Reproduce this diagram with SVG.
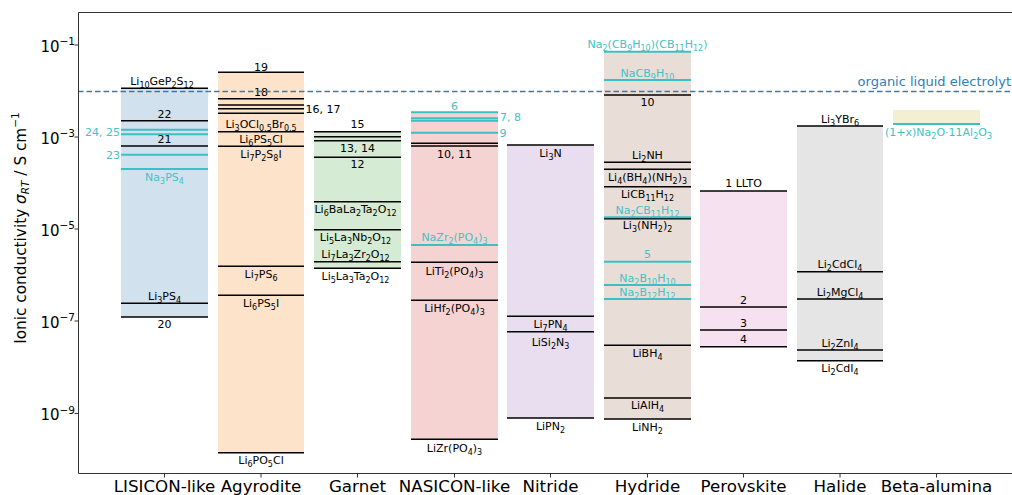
<svg xmlns="http://www.w3.org/2000/svg" width="1012" height="495" viewBox="0 0 1012 495">
<style>
.lab{font-family:"DejaVu Sans",Verdana,sans-serif;font-size:11px;fill:#000;text-anchor:middle}
.t{fill:#45c1c4}
.s{font-size:8px}
.bk{stroke:#000;stroke-width:1.5}
.tl{stroke:#3ebfc3;stroke-width:2}
.ax{stroke:#333;stroke-width:1;fill:none}
.tick{font-family:"DejaVu Sans",sans-serif;font-size:15px;fill:#000;text-anchor:end}
.xl{font-family:"DejaVu Sans",sans-serif;font-size:16.7px;fill:#000;text-anchor:middle}
</style>
<rect width="1012" height="495" fill="#fff"/>

<g id="lisicon">
<rect x="121" y="88.3" width="87" height="228.7" fill="#d2e1ee"/>
<line class="bk" x1="121" y1="88.3" x2="208" y2="88.3"/>
<line class="bk" x1="121" y1="120.7" x2="208" y2="120.7"/>
<line class="tl" x1="121" y1="129.7" x2="208" y2="129.7"/>
<line class="tl" x1="121" y1="134.3" x2="208" y2="134.3"/>
<line class="bk" x1="121" y1="146" x2="208" y2="146"/>
<line class="tl" x1="121" y1="154.7" x2="208" y2="154.7"/>
<line class="tl" x1="121" y1="169" x2="208" y2="169"/>
<line class="bk" x1="121" y1="303.3" x2="208" y2="303.3"/>
<line class="bk" x1="121" y1="317" x2="208" y2="317"/>
<text class="lab" x="162" y="85">Li<tspan class="s" dy="3">10</tspan><tspan dy="-3">GeP</tspan><tspan class="s" dy="3">2</tspan><tspan dy="-3">S</tspan><tspan class="s" dy="3">12</tspan></text>
<text class="lab" x="164.5" y="117.5">22</text>
<text class="lab t" x="120" y="136" style="text-anchor:end">24, 25</text>
<text class="lab" x="164.5" y="142.8">21</text>
<text class="lab t" x="120" y="158.5" style="text-anchor:end">23</text>
<text class="lab t" x="164.5" y="181">Na<tspan class="s" dy="3">3</tspan><tspan dy="-3">PS</tspan><tspan class="s" dy="3">4</tspan></text>
<text class="lab" x="164.5" y="300">Li<tspan class="s" dy="3">3</tspan><tspan dy="-3">PS</tspan><tspan class="s" dy="3">4</tspan></text>
<text class="lab" x="164.5" y="328">20</text>
</g>

<g id="agyrodite">
<rect x="218" y="72.3" width="86" height="380.4" fill="#fde3ca"/>
<line class="bk" x1="218" y1="72.3" x2="304" y2="72.3"/>
<line class="bk" x1="218" y1="98.7" x2="304" y2="98.7"/>
<line class="bk" x1="218" y1="105" x2="304" y2="105"/>
<line class="bk" x1="218" y1="108.7" x2="304" y2="108.7"/>
<line class="bk" x1="218" y1="113.3" x2="304" y2="113.3"/>
<line class="bk" x1="218" y1="131.7" x2="304" y2="131.7"/>
<line class="bk" x1="218" y1="146.3" x2="304" y2="146.3"/>
<line class="bk" x1="218" y1="266.3" x2="304" y2="266.3"/>
<line class="bk" x1="218" y1="295.3" x2="304" y2="295.3"/>
<line class="bk" x1="218" y1="452.7" x2="304" y2="452.7"/>
<text class="lab" x="261" y="70.5">19</text>
<text class="lab" x="261" y="96">18</text>
<text class="lab" x="305.5" y="113" style="text-anchor:start">16, 17</text>
<text class="lab" x="261" y="127.5">Li<tspan class="s" dy="3">3</tspan><tspan dy="-3">OCl</tspan><tspan class="s" dy="3">0.5</tspan><tspan dy="-3">Br</tspan><tspan class="s" dy="3">0.5</tspan></text>
<text class="lab" x="261" y="142.5">Li<tspan class="s" dy="3">6</tspan><tspan dy="-3">PS</tspan><tspan class="s" dy="3">5</tspan><tspan dy="-3">Cl</tspan></text>
<text class="lab" x="261" y="157.5">Li<tspan class="s" dy="3">7</tspan><tspan dy="-3">P</tspan><tspan class="s" dy="3">2</tspan><tspan dy="-3">S</tspan><tspan class="s" dy="3">8</tspan><tspan dy="-3">I</tspan></text>
<text class="lab" x="261" y="277.5">Li<tspan class="s" dy="3">7</tspan><tspan dy="-3">PS</tspan><tspan class="s" dy="3">6</tspan></text>
<text class="lab" x="261" y="306.5">Li<tspan class="s" dy="3">6</tspan><tspan dy="-3">PS</tspan><tspan class="s" dy="3">5</tspan><tspan dy="-3">I</tspan></text>
<text class="lab" x="261" y="464">Li<tspan class="s" dy="3">6</tspan><tspan dy="-3">PO</tspan><tspan class="s" dy="3">5</tspan><tspan dy="-3">Cl</tspan></text>
</g>

<g id="garnet">
<rect x="314" y="131.7" width="87" height="136.6" fill="#d5ebd3"/>
<line class="bk" x1="314" y1="131.7" x2="401" y2="131.7"/>
<line class="bk" x1="314" y1="136.7" x2="401" y2="136.7"/>
<line class="bk" x1="314" y1="140.7" x2="401" y2="140.7"/>
<line class="bk" x1="314" y1="157.3" x2="401" y2="157.3"/>
<line class="bk" x1="314" y1="201.7" x2="401" y2="201.7"/>
<line class="bk" x1="314" y1="229.7" x2="401" y2="229.7"/>
<line class="bk" x1="314" y1="261.7" x2="401" y2="261.7"/>
<line class="bk" x1="314" y1="268.3" x2="401" y2="268.3"/>
<text class="lab" x="357.5" y="128.3">15</text>
<text class="lab" x="357.5" y="151.8">13, 14</text>
<text class="lab" x="357.5" y="168.3">12</text>
<text class="lab" x="355.5" y="213">Li<tspan class="s" dy="3">6</tspan><tspan dy="-3">BaLa</tspan><tspan class="s" dy="3">2</tspan><tspan dy="-3">Ta</tspan><tspan class="s" dy="3">2</tspan><tspan dy="-3">O</tspan><tspan class="s" dy="3">12</tspan></text>
<text class="lab" x="355.5" y="240.7">Li<tspan class="s" dy="3">5</tspan><tspan dy="-3">La</tspan><tspan class="s" dy="3">3</tspan><tspan dy="-3">Nb</tspan><tspan class="s" dy="3">2</tspan><tspan dy="-3">O</tspan><tspan class="s" dy="3">12</tspan></text>
<text class="lab" x="355.5" y="258.3">Li<tspan class="s" dy="3">7</tspan><tspan dy="-3">La</tspan><tspan class="s" dy="3">3</tspan><tspan dy="-3">Zr</tspan><tspan class="s" dy="3">2</tspan><tspan dy="-3">O</tspan><tspan class="s" dy="3">12</tspan></text>
<text class="lab" x="355.5" y="279.7">Li<tspan class="s" dy="3">5</tspan><tspan dy="-3">La</tspan><tspan class="s" dy="3">3</tspan><tspan dy="-3">Ta</tspan><tspan class="s" dy="3">2</tspan><tspan dy="-3">O</tspan><tspan class="s" dy="3">12</tspan></text>
</g>

<g id="nasicon">
<rect x="411" y="112.3" width="87" height="327" fill="#f5d3d3"/>
<line class="tl" x1="411" y1="112.3" x2="498" y2="112.3"/>
<line class="tl" x1="411" y1="118.3" x2="498" y2="118.3"/>
<line class="tl" x1="411" y1="120.7" x2="498" y2="120.7"/>
<line class="tl" x1="411" y1="132.7" x2="498" y2="132.7"/>
<line class="bk" x1="411" y1="143.3" x2="498" y2="143.3"/>
<line class="bk" x1="411" y1="146" x2="498" y2="146"/>
<line class="tl" x1="411" y1="245" x2="498" y2="245"/>
<line class="bk" x1="411" y1="262.3" x2="498" y2="262.3"/>
<line class="bk" x1="411" y1="300.3" x2="498" y2="300.3"/>
<line class="bk" x1="411" y1="439.3" x2="498" y2="439.3"/>
<text class="lab t" x="454.5" y="109.5">6</text>
<text class="lab t" x="500" y="121" style="text-anchor:start">7, 8</text>
<text class="lab t" x="499.5" y="137" style="text-anchor:start">9</text>
<text class="lab" x="454.5" y="158">10, 11</text>
<text class="lab t" x="454.5" y="240.7">NaZr<tspan class="s" dy="3">2</tspan><tspan dy="-3">(PO</tspan><tspan class="s" dy="3">4</tspan><tspan dy="-3">)</tspan><tspan class="s" dy="3">3</tspan></text>
<text class="lab" x="454.5" y="274.5">LiTi<tspan class="s" dy="3">2</tspan><tspan dy="-3">(PO</tspan><tspan class="s" dy="3">4</tspan><tspan dy="-3">)</tspan><tspan class="s" dy="3">3</tspan></text>
<text class="lab" x="454.5" y="312.3">LiHf<tspan class="s" dy="3">2</tspan><tspan dy="-3">(PO</tspan><tspan class="s" dy="3">4</tspan><tspan dy="-3">)</tspan><tspan class="s" dy="3">3</tspan></text>
<text class="lab" x="454.5" y="451.5">LiZr(PO<tspan class="s" dy="3">4</tspan><tspan dy="-3">)</tspan><tspan class="s" dy="3">3</tspan></text>
</g>

<g id="nitride">
<rect x="507" y="145" width="87" height="273" fill="#e9def0"/>
<line class="bk" x1="507" y1="145" x2="594" y2="145"/>
<line class="bk" x1="507" y1="316.3" x2="594" y2="316.3"/>
<line class="bk" x1="507" y1="331.7" x2="594" y2="331.7"/>
<line class="bk" x1="507" y1="418" x2="594" y2="418"/>
<text class="lab" x="550.5" y="156.7">Li<tspan class="s" dy="3">3</tspan><tspan dy="-3">N</tspan></text>
<text class="lab" x="550.5" y="328">Li<tspan class="s" dy="3">7</tspan><tspan dy="-3">PN</tspan><tspan class="s" dy="3">4</tspan></text>
<text class="lab" x="550.5" y="346.3">LiSi<tspan class="s" dy="3">2</tspan><tspan dy="-3">N</tspan><tspan class="s" dy="3">3</tspan></text>
<text class="lab" x="550.5" y="430">LiPN<tspan class="s" dy="3">2</tspan></text>
</g>

<g id="hydride">
<rect x="604" y="51.7" width="87" height="367.3" fill="#e9ddd8"/>
<line class="tl" x1="604" y1="51.7" x2="691" y2="51.7"/>
<line class="tl" x1="604" y1="80" x2="691" y2="80"/>
<line class="bk" x1="604" y1="95" x2="691" y2="95"/>
<line class="bk" x1="604" y1="162.3" x2="691" y2="162.3"/>
<line class="bk" x1="604" y1="169.3" x2="691" y2="169.3"/>
<line class="bk" x1="604" y1="186.7" x2="691" y2="186.7"/>
<line class="bk" x1="604" y1="218.8" x2="691" y2="218.8"/>
<line class="tl" x1="604" y1="217.3" x2="691" y2="217.3"/>
<line class="tl" x1="604" y1="261.7" x2="691" y2="261.7"/>
<line class="tl" x1="604" y1="285" x2="691" y2="285"/>
<line class="tl" x1="604" y1="299" x2="691" y2="299"/>
<line class="bk" x1="604" y1="345.3" x2="691" y2="345.3"/>
<line class="bk" x1="604" y1="398" x2="691" y2="398"/>
<line class="bk" x1="604" y1="419" x2="691" y2="419"/>
<text class="lab t" x="647.5" y="47.5">Na<tspan class="s" dy="3">2</tspan><tspan dy="-3">(CB</tspan><tspan class="s" dy="3">9</tspan><tspan dy="-3">H</tspan><tspan class="s" dy="3">10</tspan><tspan dy="-3">)(CB</tspan><tspan class="s" dy="3">11</tspan><tspan dy="-3">H</tspan><tspan class="s" dy="3">12</tspan><tspan dy="-3">)</tspan></text>
<text class="lab t" x="647.5" y="76.5">NaCB<tspan class="s" dy="3">9</tspan><tspan dy="-3">H</tspan><tspan class="s" dy="3">10</tspan></text>
<text class="lab" x="647.5" y="105.7">10</text>
<text class="lab" x="647.5" y="159">Li<tspan class="s" dy="3">2</tspan><tspan dy="-3">NH</tspan></text>
<text class="lab" x="647.5" y="180.7">Li<tspan class="s" dy="3">4</tspan><tspan dy="-3">(BH</tspan><tspan class="s" dy="3">4</tspan><tspan dy="-3">)(NH</tspan><tspan class="s" dy="3">2</tspan><tspan dy="-3">)</tspan><tspan class="s" dy="3">3</tspan></text>
<text class="lab" x="647.5" y="198">LiCB<tspan class="s" dy="3">11</tspan><tspan dy="-3">H</tspan><tspan class="s" dy="3">12</tspan></text>
<text class="lab t" x="647.5" y="214">Na<tspan class="s" dy="3">2</tspan><tspan dy="-3">CB</tspan><tspan class="s" dy="3">11</tspan><tspan dy="-3">H</tspan><tspan class="s" dy="3">12</tspan></text>
<text class="lab" x="647.5" y="229">Li<tspan class="s" dy="3">3</tspan><tspan dy="-3">(NH</tspan><tspan class="s" dy="3">2</tspan><tspan dy="-3">)</tspan><tspan class="s" dy="3">2</tspan></text>
<text class="lab t" x="647.5" y="257.5">5</text>
<text class="lab t" x="647.5" y="281.5">Na<tspan class="s" dy="3">2</tspan><tspan dy="-3">B</tspan><tspan class="s" dy="3">10</tspan><tspan dy="-3">H</tspan><tspan class="s" dy="3">10</tspan></text>
<text class="lab t" x="647.5" y="296">Na<tspan class="s" dy="3">2</tspan><tspan dy="-3">B</tspan><tspan class="s" dy="3">12</tspan><tspan dy="-3">H</tspan><tspan class="s" dy="3">12</tspan></text>
<text class="lab" x="647.5" y="356.7">LiBH<tspan class="s" dy="3">4</tspan></text>
<text class="lab" x="647.5" y="409.3">LiAlH<tspan class="s" dy="3">4</tspan></text>
<text class="lab" x="647.5" y="430.7">LiNH<tspan class="s" dy="3">2</tspan></text>
</g>

<g id="perovskite">
<rect x="700" y="191" width="87" height="155.7" fill="#f6e1f0"/>
<line class="bk" x1="700" y1="191" x2="787" y2="191"/>
<line class="bk" x1="700" y1="307" x2="787" y2="307"/>
<line class="bk" x1="700" y1="330" x2="787" y2="330"/>
<line class="bk" x1="700" y1="346.7" x2="787" y2="346.7"/>
<text class="lab" x="743.5" y="187.3">1 LLTO</text>
<text class="lab" x="743.5" y="304">2</text>
<text class="lab" x="743.5" y="326.5">3</text>
<text class="lab" x="743.5" y="343">4</text>
</g>

<g id="halide">
<rect x="797" y="126" width="86" height="234.7" fill="#e5e5e5"/>
<line class="bk" x1="797" y1="126" x2="883" y2="126"/>
<line class="bk" x1="797" y1="271.7" x2="883" y2="271.7"/>
<line class="bk" x1="797" y1="299" x2="883" y2="299"/>
<line class="bk" x1="797" y1="350" x2="883" y2="350"/>
<line class="bk" x1="797" y1="360.7" x2="883" y2="360.7"/>
<text class="lab" x="840" y="123.3">Li<tspan class="s" dy="3">3</tspan><tspan dy="-3">YBr</tspan><tspan class="s" dy="3">6</tspan></text>
<text class="lab" x="840" y="268">Li<tspan class="s" dy="3">2</tspan><tspan dy="-3">CdCl</tspan><tspan class="s" dy="3">4</tspan></text>
<text class="lab" x="840" y="296.2">Li<tspan class="s" dy="3">2</tspan><tspan dy="-3">MgCl</tspan><tspan class="s" dy="3">4</tspan></text>
<text class="lab" x="840" y="347">Li<tspan class="s" dy="3">2</tspan><tspan dy="-3">ZnI</tspan><tspan class="s" dy="3">4</tspan></text>
<text class="lab" x="840" y="372.3">Li<tspan class="s" dy="3">2</tspan><tspan dy="-3">CdI</tspan><tspan class="s" dy="3">4</tspan></text>
</g>

<g id="beta-alumina">
<rect x="893" y="110" width="87" height="14" fill="#f3efd2"/>
<line class="tl" x1="893" y1="124" x2="980" y2="124"/>
<text class="lab t" x="938.5" y="136.3">(1+x)Na<tspan class="s" dy="3">2</tspan><tspan dy="-3">O·11Al</tspan><tspan class="s" dy="3">2</tspan><tspan dy="-3">O</tspan><tspan class="s" dy="3">3</tspan></text>
</g>

<g id="connectors">
<line x1="78" y1="91.5" x2="1012" y2="91.5" stroke="#2f7db9" stroke-width="1.5" stroke-dasharray="5.5,3"/>
<text x="1011" y="85.5" font-family="DejaVu Sans,sans-serif" font-size="13" fill="#2f7db9" text-anchor="end">organic liquid electrolyt</text>
</g>

<g id="axes">
<path class="ax" d="M1012,12.5H78.5V473.5H1012"/>
<path class="ax" d="M74.5,45H78.5M74.5,137H78.5M74.5,229H78.5M74.5,321H78.5M74.5,413.5H78.5"/>
<path class="ax" d="M164.5,473.5V477.5M261,473.5V477.5M357.5,473.5V477.5M454.5,473.5V477.5M550.5,473.5V477.5M647.5,473.5V477.5M743.5,473.5V477.5M840,473.5V477.5M936.5,473.5V477.5"/>
<text class="tick" x="75" y="51.5">10<tspan dy="-6.5" font-size="10.5">−1</tspan></text>
<text class="tick" x="75" y="143.5">10<tspan dy="-6.5" font-size="10.5">−3</tspan></text>
<text class="tick" x="75" y="235.5">10<tspan dy="-6.5" font-size="10.5">−5</tspan></text>
<text class="tick" x="75" y="327.5">10<tspan dy="-6.5" font-size="10.5">−7</tspan></text>
<text class="tick" x="75" y="420">10<tspan dy="-6.5" font-size="10.5">−9</tspan></text>
<text transform="translate(26,228) rotate(-90)" font-family="DejaVu Sans,sans-serif" font-size="15.3" fill="#000" text-anchor="middle">Ionic conductivity <tspan font-style="italic">σ</tspan><tspan font-style="italic" font-size="10.5" dy="3">RT</tspan><tspan dy="-3"> / S cm</tspan><tspan font-size="10.5" dy="-7">−1</tspan></text>
<text class="xl" x="164.5" y="492">LISICON-like</text>
<text class="xl" x="261" y="492">Agyrodite</text>
<text class="xl" x="357.5" y="492">Garnet</text>
<text class="xl" x="454.5" y="492">NASICON-like</text>
<text class="xl" x="550.5" y="492">Nitride</text>
<text class="xl" x="647.5" y="492">Hydride</text>
<text class="xl" x="743.5" y="492">Perovskite</text>
<text class="xl" x="840" y="492">Halide</text>
<text class="xl" x="936.5" y="492">Beta-alumina</text>
</g>
</svg>
